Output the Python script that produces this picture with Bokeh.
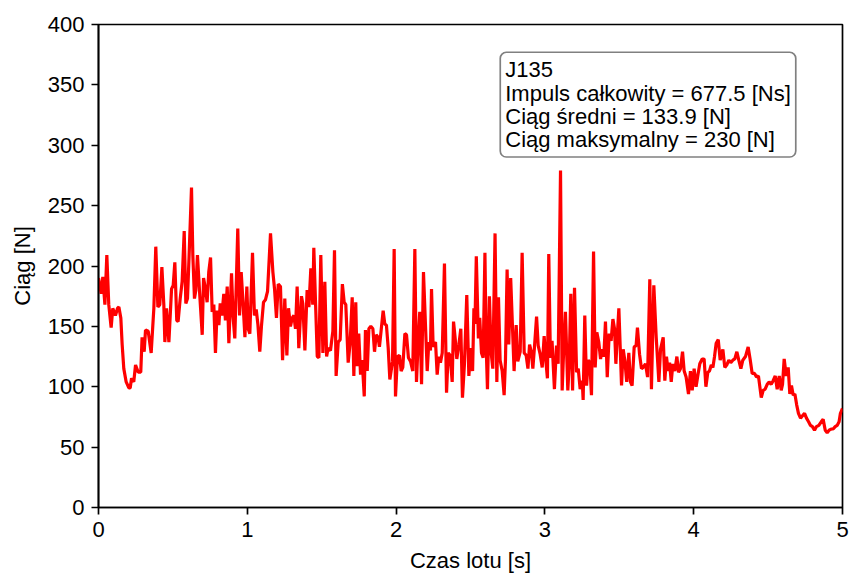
from bokeh.embed import file_html
from bokeh.resources import INLINE
from bokeh.plotting import figure
from bokeh.models import Label, Range1d, FixedTicker

# czas lotu [s]
czas = [
    0.000, 0.018, 0.029, 0.043, 0.056, 0.069, 0.085, 0.096, 0.114, 0.128, 0.137, 0.150, 0.159, 0.170,
    0.186, 0.204, 0.213, 0.222, 0.237, 0.249, 0.267, 0.284, 0.293, 0.307, 0.316, 0.334, 0.354, 0.372,
    0.385, 0.399, 0.412, 0.426, 0.439, 0.446, 0.457, 0.473, 0.491, 0.502, 0.513, 0.526, 0.535, 0.549,
    0.562, 0.576, 0.587, 0.598, 0.609, 0.625, 0.634, 0.645, 0.654, 0.665, 0.679, 0.697, 0.706,
    0.719, 0.730, 0.741, 0.753, 0.764, 0.775, 0.786, 0.797, 0.809, 0.818, 0.829, 0.842, 0.853, 0.865,
    0.876, 0.894, 0.905, 0.916, 0.936, 0.948, 0.959, 0.972, 0.984, 0.997, 1.006, 1.017, 1.035, 1.048,
    1.060, 1.071, 1.084, 1.095, 1.109, 1.122, 1.136, 1.156, 1.172, 1.183, 1.196, 1.208, 1.223, 1.237,
    1.252, 1.266, 1.277, 1.290, 1.302, 1.313, 1.324, 1.335, 1.346, 1.364, 1.373, 1.387, 1.402, 1.414,
    1.427, 1.440, 1.447,
    1.470, 1.481, 1.494, 1.508, 1.521, 1.533, 1.543, 1.559, 1.575, 1.586, 1.597, 1.611, 1.624, 1.639,
    1.651, 1.662, 1.678, 1.691, 1.705, 1.716, 1.729, 1.738, 1.749, 1.761, 1.772, 1.786, 1.794, 1.806,
    1.817, 1.830, 1.844, 1.855, 1.866, 1.879, 1.888, 1.899, 1.913, 1.924, 1.935, 1.947, 1.958, 1.976,
    1.987, 1.996, 2.009, 2.023, 2.034, 2.045, 2.059, 2.070, 2.083, 2.097, 2.112, 2.126, 2.137, 2.148,
    2.159, 2.171, 2.184,
    2.209, 2.220, 2.231, 2.238, 2.249, 2.265, 2.276, 2.287, 2.298, 2.310, 2.325, 2.339, 2.350, 2.363,
    2.377, 2.386, 2.397, 2.408, 2.422, 2.435, 2.446, 2.459, 2.475, 2.489, 2.503, 2.514, 2.523, 2.530,
    2.539, 2.553, 2.562, 2.574, 2.585, 2.597, 2.605, 2.614, 2.627, 2.639, 2.650, 2.665, 2.677, 2.688,
    2.699, 2.713, 2.726, 2.735, 2.746, 2.757, 2.770, 2.793, 2.807, 2.818, 2.834, 2.847, 2.861, 2.874,
    2.886, 2.897, 2.910, 2.919, 2.930,
    2.944, 2.955, 2.968, 2.982, 2.995, 3.006, 3.017, 3.026, 3.037, 3.048, 3.064, 3.078, 3.089, 3.105,
    3.116, 3.127, 3.138, 3.154, 3.163, 3.174, 3.186, 3.199, 3.213, 3.224, 3.237, 3.251, 3.257, 3.268,
    3.280, 3.291, 3.302, 3.313, 3.327, 3.338, 3.349, 3.362, 3.374, 3.385, 3.396, 3.407, 3.419, 3.432,
    3.445, 3.457, 3.468, 3.477, 3.486, 3.497, 3.506, 3.515, 3.526, 3.537, 3.550, 3.564, 3.575, 3.586,
    3.600, 3.613, 3.622, 3.636, 3.649, 3.660,
    3.676, 3.690, 3.705, 3.716, 3.732, 3.748, 3.766, 3.777, 3.795, 3.806, 3.817, 3.828, 3.838, 3.849,
    3.860, 3.873, 3.887, 3.898, 3.911, 3.925, 3.936, 3.949, 3.965, 3.978, 3.990, 4.003, 4.016, 4.030,
    4.041, 4.057, 4.070, 4.082, 4.095, 4.106, 4.118, 4.129, 4.140, 4.151, 4.165, 4.178, 4.196, 4.209,
    4.222, 4.236, 4.249, 4.263, 4.276, 4.290, 4.303, 4.317, 4.330, 4.348, 4.366, 4.379, 4.393,
    4.409, 4.422, 4.435, 4.454, 4.467, 4.480, 4.494, 4.507, 4.521, 4.534, 4.548, 4.561, 4.575, 4.588,
    4.597, 4.608, 4.622, 4.635, 4.646, 4.657, 4.669, 4.680, 4.692, 4.704, 4.718, 4.731, 4.745, 4.758,
    4.772, 4.785, 4.798, 4.812, 4.825, 4.841, 4.857, 4.870, 4.884, 4.897, 4.910, 4.924, 4.937, 4.951,
    4.964, 4.977, 4.986, 5.000,
]

# ciag [N]
ciag = [
    190, 177, 191, 168, 209, 168, 149, 165, 159, 165, 166, 157, 135, 115,
    104, 99, 99, 107, 104, 118, 112, 112, 141, 129, 147, 146, 128, 165,
    216, 166, 168, 199, 168, 137, 165, 137, 181, 184, 203, 155, 154, 173,
    187, 229, 169, 173, 209, 265, 209, 173, 180, 209, 179, 143, 190,
    181, 170, 195, 207, 162, 168, 128, 163, 151, 169, 159, 177, 155, 183,
    136, 194, 157, 140, 231, 159, 195, 168, 141, 183, 148, 144, 211, 159,
    164, 152, 129, 150, 170, 172, 179, 227, 195, 181, 157, 185, 183, 122,
    173, 126, 165, 150, 157, 159, 148, 183, 132, 175, 169, 130, 180, 166,
    198, 168, 215,
    125, 124, 209, 128, 187, 125, 132, 130, 146, 213, 109, 137, 139, 185,
    170, 168, 120, 136, 174, 109, 170, 117, 144, 110, 122, 92, 147, 113,
    148, 150, 148, 129, 143, 141, 133, 146, 163, 152, 151, 132, 106, 121,
    214, 92, 125, 126, 113, 116, 144, 143, 124, 121, 113, 214, 104, 137,
    162, 102, 195,
    113, 137, 130, 181, 133, 137, 110, 125, 120, 128, 202, 95, 128, 126,
    104, 154, 140, 123, 135, 148, 91, 118, 176, 109, 132, 113, 165, 152,
    208, 140, 157, 128, 124, 211, 135, 98, 175, 128, 115, 227, 104, 174,
    122, 113, 93, 122, 197, 135, 190, 113, 151, 121, 129, 211, 128, 126,
    115, 135, 128, 115, 133,
    158, 134, 127, 116, 142, 122, 107, 210, 124, 138, 98, 134, 119, 279,
    97, 133, 162, 97, 118, 177, 97, 182, 112, 115, 98, 105, 89, 159,
    101, 122, 120, 93, 212, 116, 145, 137, 123, 131, 125, 154, 108, 144,
    138, 156, 148, 119, 141, 165, 133, 101, 131, 122, 104, 128, 104, 101,
    133, 134, 149, 127, 115, 116,
    119, 108, 189, 98, 184, 141, 104, 131, 141, 105, 125, 113, 120, 104,
    119, 113, 125, 112, 115, 129, 113, 108, 94, 113, 97, 115, 100, 111,
    119, 123, 123, 100, 112, 113, 118, 116, 125, 136, 139, 122, 131, 116,
    118, 122, 120, 122, 123, 129, 122, 115, 122, 125, 133, 123, 111,
    111, 108, 109, 91, 97, 98, 102, 104, 102, 105, 109, 98, 109, 97,
    102, 123, 109, 116, 94, 101, 93, 94, 85, 78, 74, 76, 78, 74,
    71, 68, 67, 64, 67, 68, 71, 73, 64, 62, 64, 65, 65, 67,
    68, 71, 78, 82,
]

x_ticks = [0, 1, 2, 3, 4, 5]
y_ticks = [0, 50, 100, 150, 200, 250, 300, 350, 400]

info_lines = [
    "J135",
    "Impuls całkowity = 677.5 [Ns]",
    "Ciąg średni = 133.9 [N]",
    "Ciąg maksymalny = 230 [N]",
]

FONT = "Liberation Sans"
FONT_SIZE = "22px"

p = figure(
    frame_width=744, frame_height=483,
    min_border_left=98, min_border_right=21, min_border_top=24, min_border_bottom=80,
    x_range=Range1d(0, 5), y_range=Range1d(0, 400),
    x_axis_label="Czas lotu [s]", y_axis_label="Ciąg [N]",
    output_backend="svg", toolbar_location=None,
)

p.line(czas, ciag, line_color="red", line_width=3.2)

p.xgrid.visible = False
p.ygrid.visible = False
p.outline_line_color = "black"
p.outline_line_width = 1.7
p.outline_line_alpha = 1.0

p.xaxis.ticker = FixedTicker(ticks=x_ticks)
p.yaxis.ticker = FixedTicker(ticks=y_ticks)

for ax in (p.xaxis[0], p.yaxis[0]):
    ax.axis_line_color = "black"
    ax.axis_line_width = 1.7
    ax.major_tick_line_color = "black"
    ax.major_tick_line_width = 1.7
    ax.major_tick_out = 7
    ax.major_tick_in = 0
    ax.minor_tick_line_color = None
    ax.major_label_text_font = FONT
    ax.major_label_text_font_size = FONT_SIZE
    ax.major_label_text_color = "black"
    ax.major_label_standoff = 7
    ax.axis_label_text_font = FONT
    ax.axis_label_text_font_size = FONT_SIZE
    ax.axis_label_text_font_style = "normal"
    ax.axis_label_text_color = "black"

p.xaxis.axis_label_standoff = 8
p.yaxis.axis_label_standoff = 10

info = Label(
    x=2.70, y=377, anchor="top_left",
    text="\n".join(info_lines),
    text_font=FONT, text_font_size=FONT_SIZE, text_color="black",
    text_line_height=0.93,
    background_fill_color="white", background_fill_alpha=0.5,
    border_line_color="gray", border_line_width=1.7,
    border_radius=6, padding=5,
)
p.add_layout(info)

open("out.html", "w").write(file_html(p, INLINE))
